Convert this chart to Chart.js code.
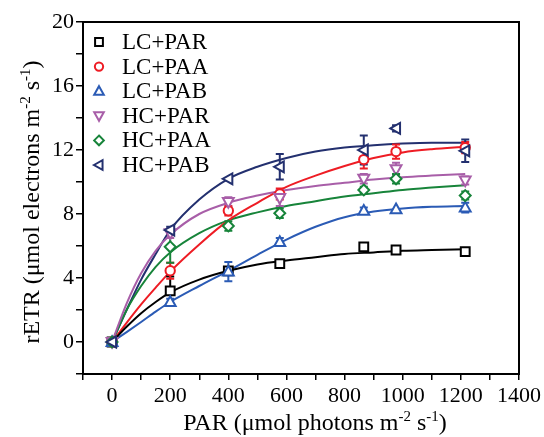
<!DOCTYPE html>
<html><head><meta charset="utf-8">
<script src="https://cdn.jsdelivr.net/npm/chart.js@4/dist/chart.umd.min.js"></script>
<style>html,body{margin:0;padding:0;background:#fff}</style>
</head><body>
<canvas id="c" width="544" height="437" style="display:block;width:544px;height:437px"></canvas>
<script>
// ---- data ----
const seriesNames = ['LC+PAR','LC+PAA','LC+PAB','HC+PAR','HC+PAA','HC+PAB'];
const parValues = [0, 200, 400, 577, 866, 977, 1215];

const lcParMean = [0, 3.2, 4.45, 4.9, 5.95, 5.75, 5.65];
const lcParErr  = [0.1, 0.9, 0.2, 0.15, 0.15, 0.15, 0.2];
const lcPaaMean = [0, 4.45, 8.2, 9.25, 11.4, 11.9, 12.15];
const lcPaaErr  = [0.1, 0.5, 0.3, 0.35, 0.55, 0.45, 0.35];
const lcPabMean = [0, 2.5, 4.4, 6.25, 8.2, 8.3, 8.4];
const lcPabErr  = [0.1, 0.2, 0.6, 0.25, 0.2, 0.15, 0.3];
const hcParMean = [0, 6.8, 8.75, 9.0, 10.2, 10.8, 10.1];
const hcParErr  = [0.1, 0.3, 0.3, 0.5, 0.3, 0.4, 0.25];
const hcPaaMean = [0, 5.95, 7.25, 8.05, 9.5, 10.2, 9.15];
const hcPaaErr  = [0.1, 1.0, 0.3, 0.3, 0.2, 0.3, 0.25];
const hcPabMean = [0, 7.0, 10.2, 10.95, 12.0, 13.35, 11.95];
const hcPabErr  = [0.1, 0.2, 0.15, 0.8, 0.9, 0.2, 0.7];

// fitted curves
const curveX     = [0, 50, 100, 150, 200, 300, 400, 500, 600, 700, 800, 900, 1000, 1100, 1215];
const lcParCurve = [0, 0.95, 1.8, 2.5, 3.1, 3.9, 4.45, 4.85, 5.1, 5.3, 5.5, 5.6, 5.7, 5.75, 5.8];
const lcPaaCurve = [0, 1.2, 2.35, 3.4, 4.4, 6.1, 7.6, 8.7, 9.7, 10.4, 11.0, 11.5, 11.85, 12.05, 12.2];
const lcPabCurve = [0, 0.62, 1.25, 1.9, 2.5, 3.5, 4.45, 5.45, 6.4, 7.2, 7.8, 8.15, 8.35, 8.45, 8.5];
const hcParCurve = [0, 2.4, 4.3, 5.7, 6.7, 8.0, 8.7, 9.15, 9.5, 9.75, 9.95, 10.15, 10.3, 10.4, 10.5];
const hcPaaCurve = [0, 2.0, 3.5, 4.7, 5.6, 6.8, 7.6, 8.1, 8.5, 8.8, 9.1, 9.3, 9.5, 9.65, 9.8];
const hcPabCurve = [0, 2.0, 3.9, 5.5, 7.0, 8.9, 10.2, 10.95, 11.5, 11.9, 12.15, 12.3, 12.4, 12.45, 12.45];

const xTickLabels = ['0','200','400','600','800','1000','1200','1400'];
const yTickLabels = ['0','4','8','12','16','20'];

const colors = ['#000000', '#ee1c24', '#2b5bb5', '#a85ea8', '#17843a', '#23306f'];
const styles = [
  {shape:'rect', rot:0}, {shape:'circle', rot:0}, {shape:'triangle', rot:0},
  {shape:'triangle', rot:180}, {shape:'diamond', rot:0}, {shape:'triangle', rot:-90}
];
const means = [lcParMean, lcPaaMean, lcPabMean, hcParMean, hcPaaMean, hcPabMean];
const errs  = [lcParErr, lcPaaErr, lcPabErr, hcParErr, hcPaaErr, hcPabErr];
const curves = [lcParCurve, lcPaaCurve, lcPabCurve, hcParCurve, hcPaaCurve, hcPabCurve];

const FONT = "'Liberation Serif','Times New Roman',serif";

function drawMarker(ctx, shape, rot, x, y, r, color) {
  ctx.save();
  ctx.translate(x, y);
  ctx.rotate(rot * Math.PI / 180);
  ctx.strokeStyle = color;
  ctx.lineWidth = 2;
  ctx.fillStyle = '#fff';
  ctx.beginPath();
  if (shape === 'rect') {
    const s = r * 0.85;
    ctx.rect(-s, -s, 2 * s, 2 * s);
  } else if (shape === 'circle') {
    ctx.arc(0, 0, r * 0.9, 0, Math.PI * 2);
  } else if (shape === 'triangle') {
    const h = r * 1.1;
    ctx.moveTo(0, -h);
    ctx.lineTo(h * 0.95, h * 0.7);
    ctx.lineTo(-h * 0.95, h * 0.7);
    ctx.closePath();
  } else if (shape === 'diamond') {
    const h = r * 1.05;
    ctx.moveTo(0, -h); ctx.lineTo(h, 0); ctx.lineTo(0, h); ctx.lineTo(-h, 0);
    ctx.closePath();
  }
  ctx.fill();
  ctx.stroke();
  ctx.restore();
}

const datasets = [];
for (let i = 0; i < 6; i++) {
  datasets.push({
    type: 'line',
    label: seriesNames[i] + ' fit',
    data: curveX.map((x, j) => ({x, y: curves[i][j]})),
    borderColor: colors[i],
    borderWidth: 2,
    pointRadius: 0,
    cubicInterpolationMode: 'monotone',
    fill: false,
    order: 2
  });
}
for (let i = 0; i < 6; i++) {
  datasets.push({
    type: 'scatter',
    label: seriesNames[i],
    data: parValues.map((x, j) => ({x, y: means[i][j]})),
    borderColor: colors[i],
    backgroundColor: colors[i],
    pointRadius: 0,
    showLine: false,
    seriesIndex: i,
    order: 1
  });
}

const customPlugin = {
  id: 'custom',
  afterDatasetsDraw(chart) {
    const ctx = chart.ctx;
    const xs = chart.scales.x, ys = chart.scales.y;
    ctx.save();
    ctx.beginPath();
    ctx.rect(chart.chartArea.left, chart.chartArea.top, chart.chartArea.right - chart.chartArea.left, chart.chartArea.bottom - chart.chartArea.top);
    ctx.clip();
    for (let i = 0; i < 6; i++) {
      ctx.strokeStyle = colors[i];
      ctx.lineWidth = 2;
      for (let j = 0; j < parValues.length; j++) {
        const e = errs[i][j];
        if (e < 0.2) continue;
        const px = xs.getPixelForValue(parValues[j]);
        const y1 = ys.getPixelForValue(means[i][j] - e);
        const y2 = ys.getPixelForValue(means[i][j] + e);
        ctx.beginPath();
        ctx.moveTo(px, y1); ctx.lineTo(px, y2);
        ctx.moveTo(px - 4, y1); ctx.lineTo(px + 4, y1);
        ctx.moveTo(px - 4, y2); ctx.lineTo(px + 4, y2);
        ctx.stroke();
      }
    }
    for (let i = 0; i < 6; i++) {
      for (let j = 0; j < parValues.length; j++) {
        const px = xs.getPixelForValue(parValues[j]);
        const py = ys.getPixelForValue(means[i][j]);
        drawMarker(ctx, styles[i].shape, styles[i].rot, px, py, 5.2, colors[i]);
      }
    }
    ctx.restore();
  },
  afterDraw(chart) {
    const ctx = chart.ctx;
    const a = chart.chartArea;
    ctx.save();
    // frame
    ctx.strokeStyle = '#000';
    ctx.lineWidth = 2;
    ctx.strokeRect(a.left, a.top, a.right - a.left, a.bottom - a.top);

    // legend
    ctx.font = '23px ' + FONT;
    ctx.textBaseline = 'middle';
    ctx.textAlign = 'left';
    for (let i = 0; i < 6; i++) {
      const y = 42 + i * 24.6;
      drawMarker(ctx, styles[i].shape, styles[i].rot, 99, y, 4.6, colors[i]);
      ctx.fillStyle = '#000';
      ctx.fillText(seriesNames[i], 122, y + 1);
    }

    // axis titles with superscripts
    const parts = (main, s1, mid, s2) => [
      {t: main, sup: false}, {t: s1, sup: true}, {t: mid, sup: false}, {t: s2, sup: true}, {t: ')', sup: false}
    ];
    function drawRich(segs, cx, baseline) {
      const big = '24px ' + FONT, small = '15px ' + FONT;
      let w = 0;
      segs.forEach(s => { ctx.font = s.sup ? small : big; w += ctx.measureText(s.t).width; });
      let x = cx - w / 2;
      ctx.textAlign = 'left';
      ctx.textBaseline = 'alphabetic';
      ctx.fillStyle = '#000';
      segs.forEach(s => {
        ctx.font = s.sup ? small : big;
        ctx.fillText(s.t, x, s.sup ? baseline - 9 : baseline);
        x += ctx.measureText(s.t).width;
      });
    }
    const xTitle = parts('PAR (\u03bcmol photons m', '-2', ' s', '-1');
    drawRich(xTitle, 315, 430);
    ctx.save();
    ctx.translate(39, 202);
    ctx.rotate(-Math.PI / 2);
    const yTitle = parts('rETR (\u03bcmol electrons m', '-2', ' s', '-1');
    drawRich(yTitle, 0, 0);
    ctx.restore();
    ctx.restore();
  }
};

new Chart(document.getElementById('c'), {
  data: { datasets },
  options: {
    responsive: false,
    animation: false,
    devicePixelRatio: 1,
    layout: { padding: { left: 0, right: 24, top: 22, bottom: 0 } },
    plugins: { legend: { display: false }, tooltip: { enabled: false } },
    scales: {
      x: {
        type: 'linear', min: -100, max: 1400,
        afterFit: s => { s.height = 63; },
        ticks: {
          stepSize: 100, autoSkip: false, maxRotation: 0, padding: 3,
          color: '#000', font: { family: FONT, size: 22 },
          callback: v => (v >= 0 && v % 200 === 0) ? xTickLabels[v / 200] : ''
        },
        grid: { drawOnChartArea: false, drawTicks: true, tickLength: 6, color: '#000', lineWidth: 1.5 },
        border: { display: true, color: '#000', width: 2 }
      },
      y: {
        type: 'linear', min: -2, max: 20,
        afterFit: s => { s.width = 83; },
        ticks: {
          stepSize: 2, autoSkip: false, padding: 2,
          color: '#000', font: { family: FONT, size: 22 },
          callback: v => (v >= 0 && v % 4 === 0) ? yTickLabels[v / 4] : ''
        },
        grid: { drawOnChartArea: false, drawTicks: true, tickLength: 7, color: '#000', lineWidth: 1.5 },
        border: { display: true, color: '#000', width: 2 }
      }
    }
  },
  plugins: [customPlugin]
});
</script>
</body></html>
